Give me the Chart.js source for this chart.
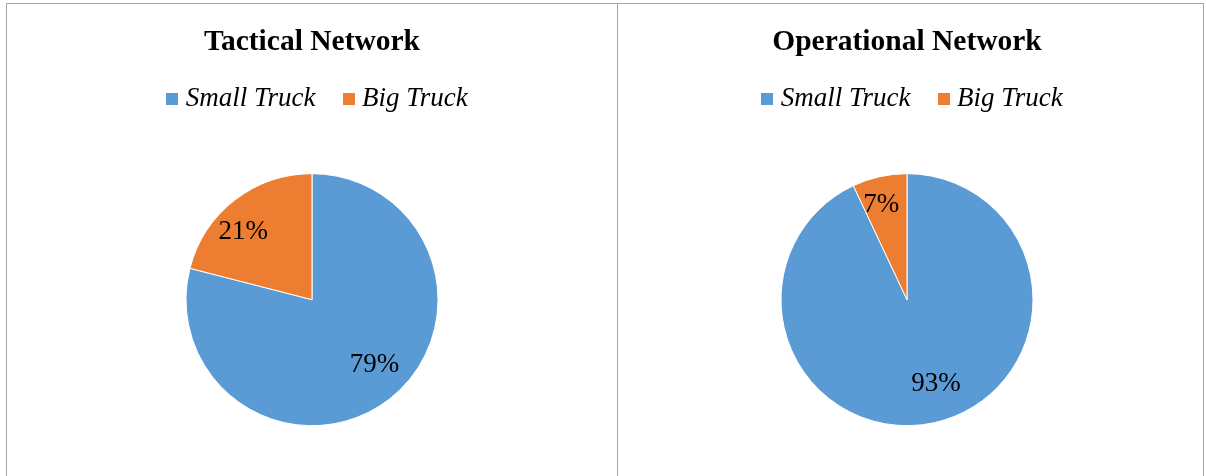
<!DOCTYPE html>
<html>
<head>
<meta charset="utf-8">
<script src="https://cdn.jsdelivr.net/npm/chart.js@4"></script>
<style>
  html, body { margin: 0; padding: 0; background: #fff; overflow: hidden; }
  .panel { position: absolute; top: 3px; height: 490px; border: 1px solid #a6a6a6; border-bottom: none; background: #fff; }
  #leftPanel { left: 6px; width: 610px; }
  #rightPanel { left: 617px; width: 585px; }
  canvas { display: block; }
</style>
</head>
<body>
<div class="panel" id="leftPanel"><canvas id="tactical" width="610" height="476"></canvas></div>
<div class="panel" id="rightPanel"><canvas id="operational" width="585" height="476"></canvas></div>
<script>
const categories = ['Small Truck', 'Big Truck'];
const tacticalValues = [79, 21];
const operationalValues = [93, 7];
const sliceColors = ['#5B9BD5', '#ED7D31'];

const serif = '"Times New Roman", "Liberation Serif", serif';

// small square swatch so the legend text can sit close to it
function swatch(color) {
    const c = document.createElement('canvas');
    c.width = 12;
    c.height = 12;
    const g = c.getContext('2d');
    g.fillStyle = color;
    g.fillRect(0, 0, 12, 12);
    return c;
}

// percentage labels inside each slice, like the excel data labels
const pctLabels = {
    id: 'pctLabels',
    afterLayout(chart) {
        // excel legend sits a little right of the centre
        chart.legend.left += 8;
        chart.legend.right += 8;
    },
    afterDatasetsDraw(chart) {
        const ctx = chart.ctx;
        const meta = chart.getDatasetMeta(0);
        const data = chart.data.datasets[0].data;
        const total = data.reduce((a, b) => a + b, 0);
        ctx.save();
        ctx.font = '27px ' + serif;
        ctx.fillStyle = '#000';
        ctx.textAlign = 'center';
        ctx.textBaseline = 'middle';
        meta.data.forEach((arc, i) => {
            const p = arc.getProps(['x', 'y', 'startAngle', 'endAngle', 'outerRadius'], true);
            const share = data[i] / total;
            const mid = (p.startAngle + p.endAngle) / 2 - 0.12 * Math.min(1, share / 0.2);
            const r = p.outerRadius * (0.8 - 0.12 * share);
            ctx.fillText(Math.round(share * 100) + '%', p.x + Math.cos(mid) * r, p.y + Math.sin(mid) * r + 2);
        });
        ctx.restore();
    }
};

function makePie(id, title, values, padRight) {
    return new Chart(document.getElementById(id), {
        type: 'pie',
        data: {
            labels: categories,
            datasets: [{
                data: values,
                backgroundColor: sliceColors,
                borderColor: '#fff',
                borderWidth: 1
            }]
        },
        options: {
            responsive: false,
            animation: false,
            radius: 126,
            layout: { padding: { bottom: 3, right: padRight } },
            plugins: {
                title: {
                    display: true,
                    text: title,
                    color: '#000',
                    font: { family: serif, size: 29.5, weight: 'bold', lineHeight: 0.7 },
                    padding: { top: 27.7, bottom: 0 }
                },
                legend: {
                    display: true,
                    position: 'top',
                    labels: {
                        color: '#000',
                        usePointStyle: true,
                        boxWidth: 0.01,
                        boxHeight: 12,
                        padding: 33,
                        font: { family: serif, size: 27, style: 'italic' },
                        generateLabels(chart) {
                            const items = Chart.overrides.pie.plugins.legend.labels.generateLabels(chart);
                            items.forEach(it => { it.pointStyle = swatch(it.fillStyle); });
                            return items;
                        }
                    }
                },
                tooltip: { enabled: false }
            }
        },
        plugins: [pctLabels]
    });
}

makePie('tactical', 'Tactical Network', tacticalValues, 0);
makePie('operational', 'Operational Network', operationalValues, 7);
</script>
</body>
</html>
